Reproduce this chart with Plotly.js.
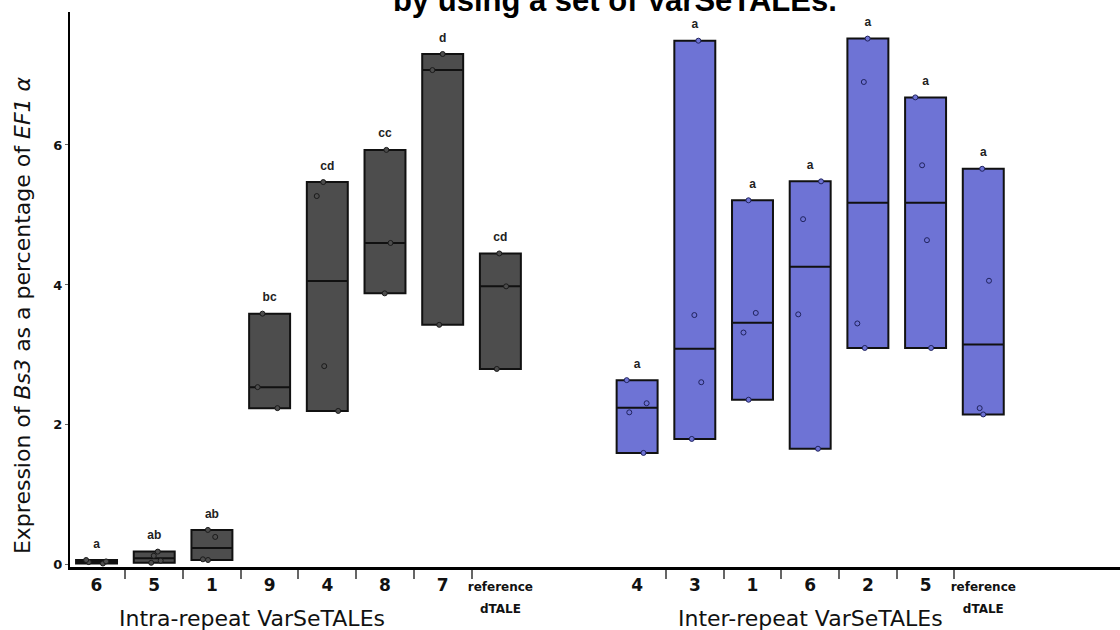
<!DOCTYPE html>
<html><head><meta charset="utf-8">
<script src="https://cdn.plot.ly/plotly-3.0.1.min.js"></script>
<style>html,body{margin:0;padding:0;background:#fff}#chart{width:1120px;height:630px}</style>
</head><body><div id="chart"></div>
<script>
// ---------- data ----------
const intraLabels = ['6','5','1','9','4','8','7','reference dTALE'];
const intraValues = [
  [0.02, 0.04, 0.05, 0.07],
  [0.03, 0.06, 0.13, 0.19],
  [0.07, 0.08, 0.40, 0.50],
  [2.24, 2.54, 3.59],
  [2.20, 2.84, 5.27, 5.47],
  [3.88, 4.60, 5.93],
  [3.43, 7.07, 7.30],
  [2.80, 3.98, 4.45]
];
const intraLetters = ['a','ab','ab','bc','cd','cc','d','cd'];

const interLabels = ['4','3','1','6','2','5','reference dTALE'];
const interValues = [
  [1.60, 2.18, 2.31, 2.64],
  [1.80, 2.61, 3.57, 7.49],
  [2.36, 3.32, 3.60, 5.21],
  [1.66, 3.58, 4.94, 5.48],
  [3.10, 3.45, 6.90, 7.52],
  [3.10, 4.64, 5.71, 6.68],
  [2.15, 2.24, 4.06, 5.66]
];
const interLetters = ['a','a','a','a','a','a','a'];

const groupNames = ['Intra-repeat VarSeTALEs', 'Inter-repeat VarSeTALEs'];
const yTicks = [0, 2, 4, 6];
const yTitle = 'Expression of <i>Bs3</i> as a percentage of <i>EF1 α</i>';
const chartTitle = 'by using a set of VarSeTALEs.';

// ---------- layout helpers ----------
const group2Start = 9.37;
const intraPos = intraLabels.map((_, i) => i);
const interPos = interLabels.map((_, i) => group2Start + i);

function median(a) {
  const s = [...a].sort((p, q) => p - q);
  const n = s.length;
  return n % 2 ? s[(n - 1) / 2] : (s[n / 2 - 1] + s[n / 2]) / 2;
}
const mins = v => v.map(a => Math.min(...a));
const maxs = v => v.map(a => Math.max(...a));
const meds = v => v.map(median);

function boxTrace(pos, vals, fill, edge, ptEdge) {
  return {
    type: 'box',
    x: pos,
    y: vals,
    q1: mins(vals), q3: maxs(vals), median: meds(vals),
    lowerfence: mins(vals), upperfence: maxs(vals),
    width: 0.71,
    fillcolor: fill,
    line: { color: edge, width: 2 },
    whiskerwidth: 0,
    boxpoints: 'all', jitter: 0.6, pointpos: 0,
    marker: { size: 5, color: fill, line: { color: ptEdge, width: 1 } },
    hoverinfo: 'skip',
    showlegend: false
  };
}
function letterTrace(pos, vals, letters) {
  return {
    type: 'scatter', mode: 'text',
    x: pos, y: maxs(vals).map(m => m + 0.22),
    text: letters,
    textfont: { family: 'Liberation Sans', size: 12, color: '#222', weight: 700 },
    hoverinfo: 'skip', showlegend: false
  };
}

const fmtTick = t => t === 'reference dTALE'
  ? '<span style="font-size:12px">reference<br>dTALE</span>' : t;

const allPos = intraPos.concat(interPos);
const allText = intraLabels.concat(interLabels).map(fmtTick);
const boundaries = [];
for (let i = 0; i < intraPos.length - 1; i++) boundaries.push((intraPos[i] + intraPos[i + 1]) / 2);
for (let i = 0; i < interPos.length - 1; i++) boundaries.push((interPos[i] + interPos[i + 1]) / 2);

const data = [
  boxTrace(intraPos, intraValues, '#4d4d4d', '#111111', '#1a1a1a'),
  boxTrace(interPos, interValues, '#6e73d5', '#111111', '#20235e'),
  letterTrace(intraPos, intraValues, intraLetters),
  letterTrace(interPos, interValues, interLetters)
];

const labelFont = { family: 'DejaVu Sans', size: 22, color: '#111' };

const layout = {
  width: 1120, height: 630,
  paper_bgcolor: '#fff', plot_bgcolor: '#fff',
  margin: { l: 70, r: 0, t: 12, b: 63 },
  boxmode: 'overlay',
  title: {
    text: chartTitle,
    font: { family: 'Liberation Sans', size: 31, color: '#000', weight: 700 },
    xref: 'container', x: 0.549, xanchor: 'center',
    yref: 'container', y: 1, yanchor: 'middle'
  },
  xaxis: {
    range: [-0.46, 17.74],
    tickmode: 'array', tickvals: allPos, ticktext: allText,
    ticks: 'outside', ticklen: 1, tickcolor: 'rgba(0,0,0,0)',
    tickfont: { family: 'DejaVu Sans', size: 17, color: '#111', weight: 700 },
    minor: { tickmode: 'array', tickvals: boundaries, ticks: 'outside', ticklen: 9, tickwidth: 2, tickcolor: '#666' },
    showline: true, linecolor: '#000', linewidth: 2.5,
    showgrid: false, zeroline: false, fixedrange: true
  },
  yaxis: {
    range: [-0.03, 7.9],
    tickmode: 'array', tickvals: yTicks,
    ticks: 'outside', ticklen: 3, tickcolor: '#666',
    tickfont: { family: 'DejaVu Sans', size: 13, color: '#111', weight: 700 },
    showline: true, linecolor: '#000', linewidth: 2,
    showgrid: false, zeroline: false
  },
  annotations: [
    { text: yTitle, textangle: -90, xref: 'paper', x: -0.0457, xanchor: 'center',
      yref: 'paper', y: 0.454, yanchor: 'middle', showarrow: false, font: labelFont },
    { text: groupNames[0], x: 2.7, xref: 'x', y: -0.093, yref: 'paper', yanchor: 'middle', showarrow: false,
      font: labelFont },
    { text: groupNames[1], x: group2Start + 3, xref: 'x', y: -0.093, yref: 'paper', yanchor: 'middle', showarrow: false,
      font: labelFont }
  ]
};

Plotly.newPlot('chart', data, layout, { displayModeBar: false, staticPlot: true });
</script>
</body></html>
